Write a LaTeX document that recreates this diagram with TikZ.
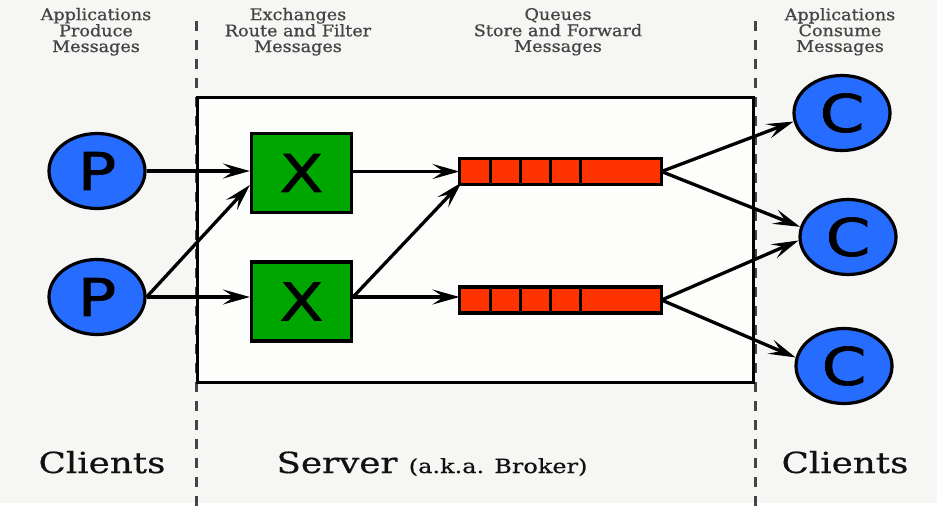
\documentclass[tikz,border=0pt]{standalone}
\usepackage{fontspec}
\setmainfont{DejaVu Serif}
\newfontfamily\letterfont[FakeBold=1.2]{DejaVu Sans}
\newfontfamily\topfont[FakeBold=0.8]{DejaVu Serif}
\newfontfamily\botfont[FakeBold=0.5]{DejaVu Serif}
\usepackage{graphicx}
\usetikzlibrary{arrows.meta,shapes.geometric,calc}
\definecolor{bg}{HTML}{F6F7F4}
\definecolor{boxbg}{HTML}{FDFDFB}
\definecolor{cblue}{RGB}{38,108,255}
\definecolor{xgreen}{RGB}{0,166,0}
\definecolor{qred}{RGB}{255,51,0}
\definecolor{toptext}{HTML}{444444}
\definecolor{bottext}{HTML}{111111}
\definecolor{dashgray}{HTML}{444444}
\newcommand\hs[1]{\scalebox{1.23}[1]{#1}}
\newcommand\ths[1]{\scalebox{1.1}[1]{#1}}
\begin{document}
\begin{tikzpicture}[x=1pt,y=-1pt,
  client/.style={ellipse,draw=black,line width=3.2pt,fill=cblue,minimum width=96pt,minimum height=75pt,inner sep=0pt,
    font=\letterfont\fontsize{52}{52}\selectfont},
  exch/.style={rectangle,draw=black,line width=3.2pt,fill=xgreen,minimum width=100pt,minimum height=79pt,inner sep=0pt,
    font=\letterfont\fontsize{52}{52}\selectfont},
  queue/.style={rectangle,draw=black,line width=3.2pt,fill=qred,minimum width=202pt,minimum height=26pt,inner sep=0pt,outer sep=0pt},
  divider/.style={line width=3pt,draw=black},
  flow/.style={line width=3.3pt,draw=black,-{Stealth[length=27pt,width=15pt,inset=11pt]}},
  sep/.style={draw=dashgray,line width=3pt,dash pattern=on 10pt off 9pt},
  toplabel/.style={text=toptext,font=\topfont\fontsize{16}{13.5}\selectfont,inner sep=0pt},
  botlabel/.style={text=bottext,font=\botfont\fontsize{29}{32}\selectfont,inner sep=0pt,anchor=base}
  ]
\useasboundingbox (0,0) rectangle (937,514);
\fill[bg] (0,0) rectangle (937,503);
\fill[white] (0,503) rectangle (937,514);

% separators
\coordinate (s1t) at (196,21);
\coordinate (s1b) at (196,514);
\coordinate (s2t) at (755,21);
\coordinate (s2b) at (755,514);
\draw[sep] (s1t) -- (s1b);
\draw[sep] (s2t) -- (s2b);

% server box
\node[draw=black,line width=3.2pt,fill=boxbg,minimum width=556pt,minimum height=285pt,inner sep=0pt] (server) at (475.5,240) {};

% producers
\node[client] (p1) at (97,171) {\hs{P}};
\node[client] (p2) at (97,297) {\hs{P}};

% exchanges
\node[exch] (x1) at (301.5,173) {\hs{X}};
\node[exch] (x2) at (301.5,301.5) {\hs{X}};

% queues
\node[queue] (q1) at (560.5,171.5) {};
\node[queue] (q2) at (560.5,300) {};
\foreach \q in {q1,q2}{
  \foreach \d in {31,61,91,121}{
    \draw[divider] ($(\q.north west)+(\d,0)$) -- ($(\q.south west)+(\d,0)$);
  }
}

% consumers
\node[client] (c1) at (842,113) {\hs{C}};
\node[client] (c2) at (848,237) {\hs{C}};
\node[client] (c3) at (844,366) {\hs{C}};

% flows
\draw[flow] (p1.east) -- (x1.west |- p1.east);
\draw[flow] (p2.east) -- ($(x1.west)+(0,12)$);
\draw[flow] (p2.east) -- (x2.west |- p2.east);
\draw[flow] (x1.east |- q1.west) -- (q1.west);
\draw[flow] (x2.east |- p2.east) -- ($(q1.south west)+(2,-2)$);
\draw[flow] (x2.east |- p2.east) -- (q2.west |- p2.east);
\draw[flow] (q1.east) -- (c1.190);
\draw[flow] (q1.east) -- (c2.168);
\draw[flow] (q2.east) -- (c2.184);
\draw[flow] (q2.east) -- (c3.170);

% top labels
\node[toplabel] (l1) at (96,32) {\ths{\begin{tabular}{@{}c@{}}Applications\\Produce\\Messages\end{tabular}}};
\node[toplabel] (l2) at (298,32) {\ths{\begin{tabular}{@{}c@{}}Exchanges\\Route and Filter\\Messages\end{tabular}}};
\node[toplabel] (l3) at (558,32) {\ths{\begin{tabular}{@{}c@{}}Queues\\Store and Forward\\Messages\end{tabular}}};
\node[toplabel] (l4) at (840,32) {\ths{\begin{tabular}{@{}c@{}}Applications\\Consume\\Messages\end{tabular}}};

% bottom labels
\node[botlabel] (cl1) at (102,473) {\hs{Clients}};
\node[botlabel] (srv) at (432,473) {\hs{Server {\fontsize{19.5}{20}\selectfont(a.k.a. Broker)}}};
\node[botlabel] (cl2) at (845,473) {\hs{Clients}};
\end{tikzpicture}
\end{document}
